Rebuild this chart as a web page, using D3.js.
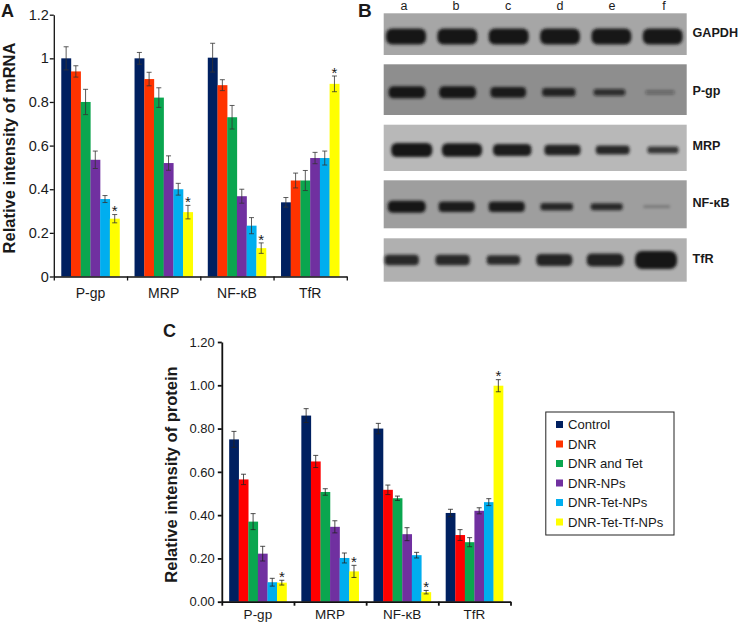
<!DOCTYPE html>
<html><head><meta charset="utf-8">
<script src="https://cdnjs.cloudflare.com/ajax/libs/d3/7.8.5/d3.min.js"></script>
<style>html,body{margin:0;padding:0;background:#fff}svg{display:block}text{font-family:"Liberation Sans",Arial,sans-serif;fill:#1a1a1a}</style>
</head><body><svg id="c" width="740" height="624"></svg>
<script>
const groups = ["P-gp","MRP","NF-κB","TfR"];
const seriesNames = ["Control","DNR","DNR and Tet","DNR-NPs","DNR-Tet-NPs","DNR-Tet-Tf-NPs"];
const mrnaValues = [[1.0,.94,.80,.535,.355,.265],[1.0,.905,.82,.52,.40,.295],[1.003,.877,.73,.368,.233,.13],[.34,.44,.44,.543,.543,.883]];
const mrnaTops = [[1.053,.966,.858,.575,.371,.284],[1.027,.936,.865,.553,.427,.326],[1.069,.902,.784,.40,.27,.154],[.362,.474,.486,.569,.575,.919]];
const proteinValues = [[.75,.565,.37,.222,.09,.088],[.86,.648,.507,.346,.202,.14],[.80,.517,.478,.312,.215,.044],[.41,.308,.275,.42,.46,.998]];
const proteinTops = [[.787,.589,.407,.256,.108,.099],[.892,.676,.522,.374,.225,.168],[.824,.539,.488,.342,.228,.052],[.427,.333,.296,.434,.476,1.026]];
const lanes = ["a","b","c","d","e","f"];
const blotNames = ["GAPDH","P-gp","MRP","NF-κB","TfR"];
const blotStrength = [[1,1,1,.97,.97,.97],[1,1,.85,.6,.42,.14],[1,.95,.85,.72,.58,.42],[1,.85,.85,.55,.5,.07],[.55,.55,.5,.65,.7,1]];

const colorsA = ["#002060","#ff3300","#0aa64f","#7030a0","#00aeef","#ffff00"];
const colorsC = ["#002060","#ff0000","#0aa64f","#7030a0","#00aeef","#ffff00"];
const svg = d3.select("#c");
const defs = svg.append("defs");
defs.append("filter").attr("id","soft").attr("x","-30%").attr("y","-60%").attr("width","160%").attr("height","220%")
  .append("feGaussianBlur").attr("stdDeviation",1.7);

function chart(o){
  const g = svg.append("g");
  const y = d3.scaleLinear().domain([0,o.max]).range([o.y0,o.y1]);
  const x0 = d3.scaleBand().domain(groups).range([o.x0,o.x1]);
  const x1 = d3.scaleBand().domain(seriesNames).range([0,x0.bandwidth()]).paddingInner(0).paddingOuter(.77);
  const gs = g.selectAll("g.grp").data(groups).join("g").attr("transform",d=>`translate(${x0(d)},0)`);
  gs.each(function(gr,gi){
    const s = d3.select(this);
    seriesNames.forEach((n,i)=>{
      const v=o.values[gi][i], t=o.tops[gi][i], b=v-(t-v), cx=x1(n)+x1.bandwidth()/2;
      s.append("rect").attr("x",x1(n)).attr("width",x1.bandwidth()+.2).attr("y",y(v)).attr("height",y(0)-y(v)).attr("fill",o.colors[i]);
      const e=s.append("g").attr("stroke",o.errColor).attr("stroke-width",.8).attr("fill","none");
      e.append("line").attr("x1",cx).attr("x2",cx).attr("y1",y(t)).attr("y2",y(b));
      e.append("line").attr("x1",cx-2.5).attr("x2",cx+2.5).attr("y1",y(t)).attr("y2",y(t));
      e.append("line").attr("x1",cx-2.5).attr("x2",cx+2.5).attr("y1",y(b)).attr("y2",y(b));
      if(i===5) s.append("text").attr("x",cx).attr("y",y(t)-2).attr("dy","0.25em").attr("text-anchor","middle").attr("font-size",15).text("*");
    });
  });
  const yAxis = d3.axisLeft(y).tickValues(o.ticks).tickFormat(o.fmt).tickSize(4).tickSizeOuter(0).tickPadding(o.yPad);
  const ya = g.append("g").attr("transform",`translate(${o.x0},0)`).call(yAxis);
  ya.selectAll("text").attr("font-size",o.tickFont);
  ya.selectAll("line,path").attr("stroke","#111").attr("stroke-width",o.sw);
  const edge = d3.scaleLinear().domain([0,4]).range([o.x0,o.x1]);
  const xt = g.append("g").attr("transform",`translate(0,${o.y0})`).call(d3.axisBottom(edge).tickValues([0,1,2,3,4]).tickFormat("").tickSize(4).tickSizeOuter(0));
  xt.selectAll("line,path").attr("stroke","#111").attr("stroke-width",o.sw);
  const xl = g.append("g").attr("transform",`translate(0,${o.y0})`).call(d3.axisBottom(x0).tickSize(0).tickPadding(o.xPad));
  xl.select("path").remove();
  xl.selectAll("text").attr("font-size",o.xFont);
  svg.append("text").attr("transform",`translate(${o.lx},${o.ly}) rotate(-90)`).attr("text-anchor","middle")
    .attr("font-size",o.lf).attr("font-weight","bold").text(o.label);
}
chart({x0:53.8,x1:346.8,y0:276.5,y1:14.7,max:1.2,ticks:[0,.2,.4,.6,.8,1,1.2],fmt:d3.format("~g"),values:mrnaValues,tops:mrnaTops,colors:colorsA,errColor:"#333",tickFont:14.5,yPad:1,xFont:14,xPad:12,sw:1.3,label:"Relative intensity of mRNA",lx:15,ly:148,lf:16.5});
chart({x0:221.8,x1:510.5,y0:601.7,y1:342,max:1.2,ticks:[0,.2,.4,.6,.8,1,1.2],fmt:d3.format(".2f"),values:proteinValues,tops:proteinTops,colors:colorsC,errColor:"#222",tickFont:13,yPad:3,xFont:13.5,xPad:8,sw:1.8,label:"Relative intensity of protein",lx:177,ly:474.5,lf:16.5});

[["A",1,17,18],["B",358,16.7,19],["C",163,337,18]].forEach(d=>svg.append("text").attr("x",d[1]).attr("y",d[2]).attr("font-size",d[3]).attr("font-weight","bold").attr("fill","#111").text(d[0]));

const lg = svg.append("g");
lg.append("rect").attr("x",545.8).attr("y",412).attr("width",128.2).attr("height",123).attr("fill","#fff").attr("stroke","#222").attr("stroke-width",1);
const ly = d3.scalePoint().domain(seriesNames).range([424.5,522]);
seriesNames.forEach((n,i)=>{
  lg.append("rect").attr("x",556).attr("y",ly(n)-3.5).attr("width",7).attr("height",7).attr("fill",colorsA[i]);
  lg.append("text").attr("x",568).attr("y",ly(n)).attr("dy","0.35em").attr("font-size",13.1).text(n);
});

const blotLayout = [
 {top:13.3,bottom:55,bg:"#a6a6a6",yc:36.5,labelY:33,range:[406,662.7],w:[34,40],h:[10,16]},
 {top:64.3,bottom:115,bg:"#8e8e8e",yc:92.3,labelY:90.7,range:[407,660],w:[28,37],h:[3,12]},
 {top:124.7,bottom:171,bg:"#b8b8b8",yc:150,labelY:146,range:[411.7,663],w:[24,41],h:[2,14]},
 {top:180.3,bottom:228.3,bg:"#9e9e9e",yc:206.7,labelY:202.7,range:[406.7,656.7],w:[26,38],h:[2,12]},
 {top:238.3,bottom:281.7,bg:"#b0b0b0",yc:260,labelY:259,range:[401.7,656],w:[25,42],h:[1,18]}
];
const px0=383.7, px1=686.7;
blotNames.forEach((n,r)=>{
  const L=blotLayout[r];
  svg.append("rect").attr("x",px0).attr("y",L.top).attr("width",px1-px0).attr("height",L.bottom-L.top).attr("fill",L.bg);
  const xs=d3.scalePoint().domain(lanes).range(L.range);
  const ws=d3.scaleLinear().domain([0,1]).range(L.w), hs=d3.scaleLinear().domain([0,1]).range(L.h);
  const op=d3.scaleLinear().domain([0,.5,1]).range([.15,.88,1]).clamp(true);
  const b=svg.append("g").attr("filter","url(#soft)");
  lanes.forEach((l,i)=>{
    const s=blotStrength[r][i], w=ws(s), h=hs(s);
    b.append("rect").attr("x",xs(l)-w/2).attr("y",L.yc-h/2).attr("width",w).attr("height",h).attr("rx",Math.min(w,h)/2.6).attr("ry",h/2.6)
     .attr("fill","#141414").attr("opacity",op(s));
  });
  svg.append("text").attr("x",692.5).attr("y",L.labelY).attr("dy","0.35em").attr("font-size",12.6).attr("font-weight","bold").text(n);
});
const laneX=d3.scalePoint().domain(lanes).range([404,664]);
lanes.forEach(l=>svg.append("text").attr("x",laneX(l)).attr("y",9.5).attr("text-anchor","middle").attr("font-size",12.5).attr("fill","#333").text(l));
</script></body></html>
